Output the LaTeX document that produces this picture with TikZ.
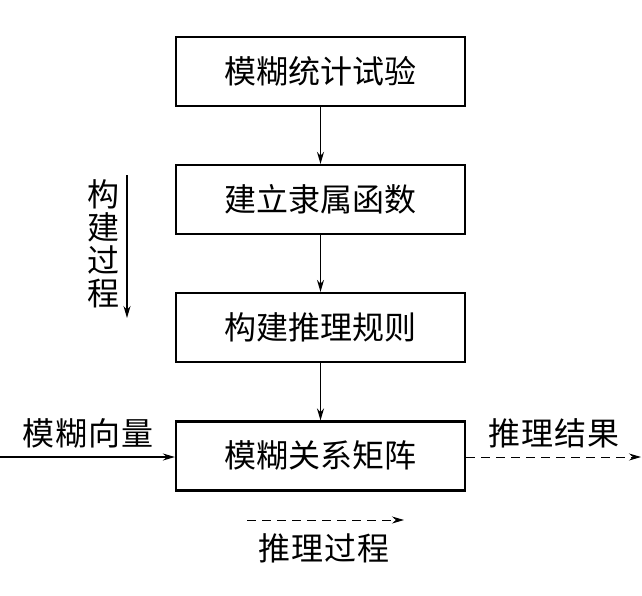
\documentclass[tikz,border=0pt]{standalone}
\usepackage{fontspec}
\setmainfont{Noto Sans CJK SC}
\usetikzlibrary{arrows.meta}
\tikzset{
  procbox/.style={draw=black, line width=2.2pt, minimum width=289pt, minimum height=69pt, inner sep=0pt, font=\fontsize{32}{38}\selectfont},
  lbl/.style={inner sep=0pt, font=\fontsize{32}{38}\selectfont},
  flow/.style={line width=1.6pt, -{Stealth[length=12pt,width=7pt]}},
  dflow/.style={line width=1pt, dash pattern=on 9pt off 6pt, -{Stealth[length=12pt,width=7pt]}}
}
\begin{document}
\begin{tikzpicture}[x=1pt,y=-1pt]
\useasboundingbox (0,0) rectangle (642,595);
\node[procbox] (b1) at (320.5,71.5) {模糊统计试验};
\node[procbox] (b2) at (320.5,199.5) {建立隶属函数};
\node[procbox] (b3) at (320.5,327.5) {构建推理规则};
\node[procbox] (b4) at (320.5,456) {模糊关系矩阵};
\draw[flow] (b1.south) -- (b2.north);
\draw[flow] (b2.south) -- (b3.north);
\draw[flow] (b3.south) -- (b4.north);
\coordinate (inL) at (0,457);
\draw[flow] (inL) -- (b4.west |- inL);
\node[lbl] (lin) at (88,433) {模\kern1pt 糊\kern1pt 向\kern1pt 量};
\coordinate (outR) at (641,457);
\draw[dflow] (b4.east |- outR) -- (outR);
\node[lbl] (lout) at (554,433) {推\kern1pt 理\kern1pt 结\kern1pt 果};
\coordinate (dA) at (247,520);
\coordinate (dB) at (404,520);
\draw[dflow] (dA) -- (dB);
\node[lbl] (lproc) at (324,548) {推\kern1pt 理\kern1pt 过\kern1pt 程};
\node[lbl, align=center, font=\fontsize{32}{33}\selectfont] (lcon) at (103,244) {构\\建\\过\\程};
\coordinate (vA) at (127,175);
\coordinate (vB) at (127,318);
\draw[flow] (vA) -- (vB);
\end{tikzpicture}
\end{document}
